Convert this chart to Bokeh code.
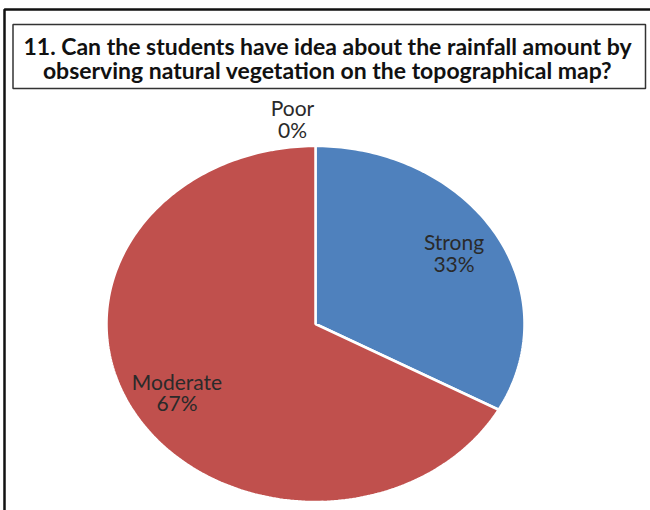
import math

from bokeh.core.properties import value
from bokeh.embed import file_html
from bokeh.models import Range1d
from bokeh.plotting import figure
from bokeh.resources import INLINE

# Survey answers (percent of students)
categories = ["Poor", "Strong", "Moderate"]
percents = [0, 33, 67]
colors = ["#9BBB59", "#4F81BD", "#C0504D"]

title_lines = [
    "11. Can the students have idea about the rainfall amount by",
    "observing natural vegetation on the topographical map?",
]

W, H = 650, 510

p = figure(
    width=W, height=H,
    x_range=Range1d(0, W), y_range=Range1d(H, 0),   # y grows downwards
    output_backend="svg", toolbar_location=None,
    min_border=0, outline_line_color=None,
)
p.axis.visible = False
p.grid.visible = False
p.background_fill_color = "white"
p.border_fill_color = "white"

# outer chart border (runs past the right and bottom edges)
p.quad(left=4, right=W + 50, top=9, bottom=H + 50,
       fill_color=None, line_color="#111111", line_width=2.5)

# title box
p.quad(left=12.5, right=645, top=24, bottom=88,
       fill_color=None, line_color="#333333", line_width=1.5)
for i, line in enumerate(title_lines):
    p.text(x=[327], y=[45 + 24 * i], text=[line],
           text_font=value("Lato"), text_font_style="bold",
           text_font_size="23px", text_color="#111111",
           text_align="center", text_baseline="alphabetic")

# elliptical pie
cx, cy, rx, ry = 315, 323.5, 209, 178


def pt(theta, r=1.0):
    """Point at angle theta (radians, clockwise from 12 o'clock)."""
    return cx + r * rx * math.sin(theta), cy - r * ry * math.cos(theta)


total = sum(percents)
start = 0.0
xs, ys, fills = [], [], []
label_pos = []
for cat, val, col in zip(categories, percents, colors):
    sweep = 2 * math.pi * val / total
    end = start + sweep
    mid = (start + end) / 2
    if val > 0:
        n = max(4, int(180 * sweep / math.pi))
        arc = [pt(start + sweep * k / n) for k in range(n + 1)]
        xs.append([cx] + [a[0] for a in arc])
        ys.append([cy] + [a[1] for a in arc])
        fills.append(col)
        label_pos.append(pt(mid, 0.77))
    else:
        lx, ly = pt(mid, 1.144)
        label_pos.append((lx - 23, ly))
    start = end

p.patches(xs, ys, fill_color=fills, line_color="white", line_width=2.5)

for cat, val, (lx, ly) in zip(categories, percents, label_pos):
    p.text(x=[lx, lx], y=[ly - 12.5, ly + 9], text=[cat, f"{val}%"],
           text_font=value("Lato"), text_font_size="21px",
           text_color="#2a2a2a", text_align="center",
           text_baseline="alphabetic")

with open("out.html", "w") as f:
    f.write(file_html(p, INLINE))
